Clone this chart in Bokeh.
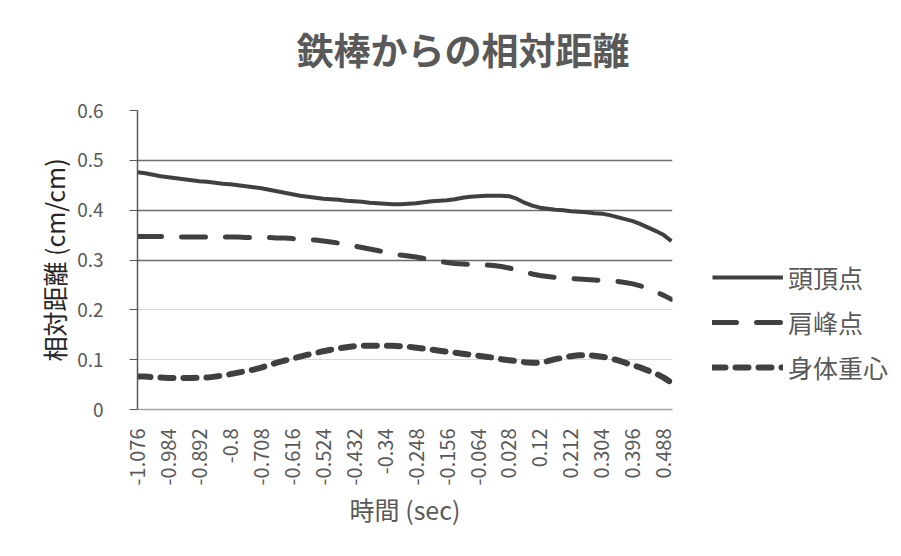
from bokeh.plotting import figure
from bokeh.models import (Range1d, FixedTicker, Legend, LegendItem, Grid,
                          CustomJSTickFormatter, Title)
from bokeh.embed import file_html
from bokeh.resources import INLINE

# ---------------- data ----------------
title_text = "鉄棒からの相対距離"
x_label = "時間 (sec)"
y_label = "相対距離 (cm/cm)"
series_names = ["頭頂点", "肩峰点", "身体重心"]

# sampling times (sec)
time = [round(-1.076 + 0.023 * i, 3) for i in range(70)]

head = [0.476, 0.474, 0.471, 0.468, 0.466, 0.464, 0.462, 0.460,
        0.458, 0.457, 0.455, 0.453, 0.452, 0.450, 0.448, 0.446,
        0.444, 0.441, 0.438, 0.435, 0.432, 0.429, 0.427, 0.425,
        0.423, 0.422, 0.421, 0.419, 0.418, 0.417, 0.415, 0.414,
        0.413, 0.412, 0.412, 0.413, 0.414, 0.416, 0.418, 0.419,
        0.420, 0.422, 0.425, 0.427, 0.428, 0.429, 0.429, 0.429,
        0.428, 0.423, 0.415, 0.409, 0.405, 0.403, 0.401, 0.400,
        0.398, 0.397, 0.396, 0.394, 0.393, 0.390, 0.386, 0.382,
        0.378, 0.372, 0.365, 0.358, 0.350, 0.338]

shoulder = [0.347, 0.347, 0.347, 0.347, 0.347, 0.347, 0.346, 0.346,
            0.346, 0.346, 0.346, 0.346, 0.346, 0.346, 0.345, 0.345,
            0.345, 0.345, 0.344, 0.344, 0.343, 0.342, 0.341, 0.340,
            0.338, 0.336, 0.334, 0.331, 0.328, 0.325, 0.322, 0.319,
            0.316, 0.313, 0.310, 0.308, 0.306, 0.303, 0.300, 0.297,
            0.295, 0.293, 0.292, 0.291, 0.291, 0.290, 0.289, 0.287,
            0.284, 0.280, 0.276, 0.272, 0.269, 0.267, 0.265, 0.264,
            0.263, 0.262, 0.261, 0.260, 0.259, 0.258, 0.257, 0.255,
            0.252, 0.248, 0.242, 0.236, 0.229, 0.221]

cog = [0.066, 0.066, 0.065, 0.064, 0.063, 0.063, 0.063, 0.063,
       0.064, 0.064, 0.066, 0.068, 0.071, 0.074, 0.077, 0.080,
       0.084, 0.089, 0.094, 0.098, 0.102, 0.106, 0.110, 0.113,
       0.117, 0.120, 0.123, 0.125, 0.127, 0.128, 0.128, 0.128,
       0.128, 0.128, 0.127, 0.126, 0.124, 0.122, 0.120, 0.118,
       0.116, 0.114, 0.112, 0.110, 0.108, 0.106, 0.104, 0.101,
       0.099, 0.097, 0.095, 0.094, 0.094, 0.097, 0.101, 0.104,
       0.107, 0.109, 0.109, 0.108, 0.106, 0.103, 0.099, 0.094,
       0.089, 0.084, 0.078, 0.072, 0.064, 0.054]

x_ticks = [-1.076, -0.984, -0.892, -0.8, -0.708, -0.616, -0.524, -0.432,
           -0.34, -0.248, -0.156, -0.064, 0.028, 0.12, 0.212, 0.304,
           0.396, 0.488]
x_tick_labels = ["-1.076", "-0.984", "-0.892", "-0.8", "-0.708", "-0.616",
                 "-0.524", "-0.432", "-0.34", "-0.248", "-0.156", "-0.064",
                 "0.028", "0.12", "0.212", "0.304", "0.396", "0.488"]
y_ticks = [0, 0.1, 0.2, 0.3, 0.4, 0.5, 0.6]
y_tick_labels = ["0", "0.1", "0.2", "0.3", "0.4", "0.5", "0.6"]

# ---------------- figure ----------------
FONT = "Noto Sans CJK JP"
TXT = "#595959"
LINE = "#404040"

p = figure(frame_width=535, frame_height=299, output_backend="svg",
           toolbar_location=None,
           x_range=Range1d(-1.076, 0.514), y_range=Range1d(0, 0.6),
           min_border_left=137, min_border_right=225,
           min_border_top=110, min_border_bottom=139)
p.outline_line_color = None
p.background_fill_color = "white"
p.border_fill_color = "white"
p.title.text = ""
p.title_location = None

# spacer between frame and title (nearest to the frame), then the title
spacer = Title(text=" ", text_font_size="1px", standoff=10)
p.add_layout(spacer, "above")
main_title = Title(text=title_text, align="left", vertical_align="top",
                   offset=159, text_font=FONT, text_font_size="37px",
                   text_font_style="bold", text_color=TXT, standoff=40)
p.add_layout(main_title, "above")

# grids
p.xgrid.visible = False
p.ygrid.ticker = FixedTicker(ticks=[0.1, 0.2])
p.ygrid.grid_line_color = "#d9d9d9"
p.ygrid.grid_line_width = 1
upper = Grid(dimension=1, ticker=FixedTicker(ticks=[0.3, 0.4, 0.5, 0.6]),
             grid_line_color="#6e6e6e", grid_line_width=1.5)
p.add_layout(upper)

# y axis
ya = p.yaxis[0]
ya.ticker = FixedTicker(ticks=y_ticks)
ya.major_label_overrides = {t: l for t, l in zip(y_ticks, y_tick_labels)}
ya.axis_line_color = "#595959"
ya.axis_line_width = 1.5
ya.major_tick_line_color = "#595959"
ya.major_tick_out = 8
ya.major_tick_in = 0
ya.minor_tick_line_color = None
ya.major_label_text_font = FONT
ya.major_label_text_font_size = "19px"
ya.major_label_text_color = TXT
ya.major_label_standoff = 26
ya.axis_label = y_label
ya.axis_label_text_font = FONT
ya.axis_label_text_font_size = "25px"
ya.axis_label_text_font_style = "normal"
ya.axis_label_text_color = "#262626"
ya.axis_label_standoff = 2

# x axis
xa = p.xaxis[0]
xa.ticker = FixedTicker(ticks=x_ticks)
xa.formatter = CustomJSTickFormatter(args=dict(ticks_v=x_ticks, labels=x_tick_labels), code="""
    let best = 0, d = 1e9;
    for (let i = 0; i < ticks_v.length; i++) {
        const e = Math.abs(ticks_v[i] - tick);
        if (e < d) { d = e; best = i; }
    }
    return labels[best];
""")
xa.axis_line_color = "#a6a6a6"
xa.axis_line_width = 1.5
xa.major_tick_line_color = None
xa.minor_tick_line_color = None
xa.major_label_orientation = 3.14159265 / 2
xa.major_label_text_font = FONT
xa.major_label_text_font_size = "20px"
xa.major_label_text_color = TXT
xa.major_label_standoff = 13
xa.axis_label = x_label
xa.axis_label_text_font = FONT
xa.axis_label_text_font_size = "25px"
xa.axis_label_text_font_style = "normal"
xa.axis_label_text_color = TXT
xa.axis_label_standoff = 3

# lines
r1 = p.line(time, head, line_color=LINE, line_width=4)
r2 = p.line(time, shoulder, line_color=LINE, line_width=5, line_dash="24 20",
            line_cap="round")
r3 = p.line(time, cog, line_color=LINE, line_width=6, line_dash="13 10",
            line_cap="round")

legend = Legend(items=[LegendItem(label=series_names[0], renderers=[r1]),
                       LegendItem(label=series_names[1], renderers=[r2]),
                       LegendItem(label=series_names[2], renderers=[r3])],
                location=(40, 24), orientation="vertical",
                glyph_width=71, glyph_height=30, label_height=30,
                label_standoff=5, spacing=9, padding=0, margin=0,
                border_line_color=None, background_fill_alpha=0,
                label_text_font=FONT, label_text_font_size="25px",
                label_text_color=TXT)
p.add_layout(legend, "right")

open("out.html", "w").write(file_html(p, INLINE))
